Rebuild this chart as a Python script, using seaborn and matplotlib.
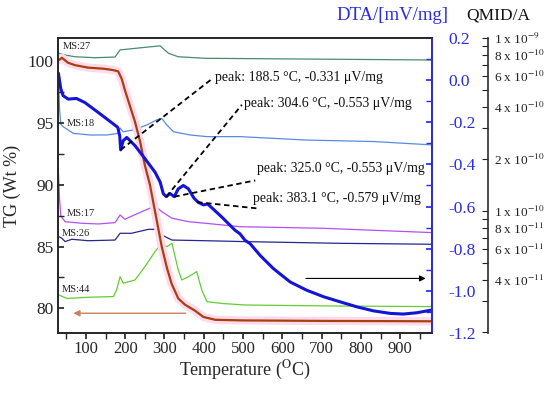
import numpy as np
import matplotlib
matplotlib.use("Agg")
import matplotlib.pyplot as plt
import matplotlib.ticker as mticker
import seaborn as sns

# --- TG curve (left axis, Wt %) ---
tg_temp = [31, 39, 54, 72, 105, 148, 169, 182, 191, 199, 212, 225, 238, 250, 263,
           278, 293, 306, 318, 335, 352, 378, 399, 429, 500, 700, 980]
tg_val = [100.1, 100.3, 99.9, 99.7, 99.5, 99.4, 99.3, 99.2, 98.6, 97.7, 96.4, 95.1, 93.5,
          91.6, 90.0, 87.5, 85.0, 83.3, 82.0, 80.8, 80.3, 79.8, 79.3, 79.07, 79.02, 78.98, 78.95]

# --- DTA curve (right axis, mV/mg) ---
dta_temp = [30, 36, 42, 55, 76, 97, 131, 165, 181, 186, 188.5, 195, 204, 225, 250, 276,
            289, 297, 304.6, 314, 325, 335, 348, 361, 375, 386, 399, 410, 420, 446, 480,
            492, 505, 518, 543, 577, 620, 662, 705, 747, 790, 832, 875, 908, 942, 980]
dta_val = [0.033, -0.041, -0.074, -0.090, -0.087, -0.106, -0.153, -0.201, -0.224, -0.264,
           -0.331, -0.287, -0.272, -0.311, -0.372, -0.437, -0.484, -0.539, -0.553, -0.538,
           -0.553, -0.516, -0.500, -0.516, -0.560, -0.580, -0.592, -0.588, -0.605, -0.650,
           -0.713, -0.729, -0.760, -0.776, -0.831, -0.894, -0.958, -0.997, -1.028, -1.052,
           -1.076, -1.095, -1.107, -1.110, -1.104, -1.091]

# --- MS ion currents (QMID axis, A) ---
ms27_temp = [30, 47, 72, 123, 174, 187, 225, 268, 289, 310, 335, 404, 747, 980]
ms27_val = [8.16e-10, 7.97e-10, 7.79e-10, 7.69e-10, 7.76e-10, 8.53e-10, 8.71e-10, 8.91e-10,
            9.0e-10, 8.16e-10, 7.79e-10, 7.63e-10, 7.53e-10, 7.46e-10]

ms18_temp = [30, 33, 36, 42, 68, 110, 153, 182, 187, 195, 220, 255, 280, 293, 306, 323,
             365, 408, 492, 662, 832, 980]
ms18_val = [5.87e-10, 3.84e-10, 3.18e-10, 3.07e-10, 2.81e-10, 2.75e-10, 2.75e-10, 2.81e-10,
            3.01e-10, 2.87e-10, 2.94e-10, 3.14e-10, 3.36e-10, 3.43e-10, 3.14e-10, 2.87e-10,
            2.75e-10, 2.69e-10, 2.69e-10, 2.57e-10, 2.52e-10, 2.41e-10]

ms17_temp = [30, 33, 36, 47, 89, 131, 174, 187, 199, 233, 268, 276, 293, 319, 361, 404,
             492, 705, 980]
ms17_val = [1.68e-10, 1.16e-10, 9.36e-11, 8.67e-11, 8.49e-11, 8.41e-11, 8.56e-11, 9.48e-11,
            8.95e-11, 9.70e-11, 1.05e-10, 1.07e-10, 9.91e-11, 9.08e-11, 8.67e-11, 8.49e-11,
            8.11e-11, 7.94e-11, 7.50e-11]

ms26_temp = [31, 38, 47, 64, 106, 174, 187, 216, 259, 276, 293, 319, 404, 505, 747, 980]
ms26_val = [7.10e-11, 6.98e-11, 6.65e-11, 6.86e-11, 6.73e-11, 6.79e-11, 7.43e-11, 7.43e-11,
            7.83e-11, 7.83e-11, 7.26e-11, 6.79e-11, 6.73e-11, 6.65e-11, 6.50e-11, 6.42e-11]

ms44_temp = [31, 52, 106, 170, 178, 187, 195, 225, 250, 276, 293, 306, 319, 335, 344, 361,
             382, 395, 408, 446, 505, 747, 980]
ms44_val = [3.27e-11, 3.12e-11, 3.17e-11, 3.20e-11, 3.49e-11, 4.17e-11, 3.82e-11, 3.99e-11,
            4.76e-11, 5.82e-11, 6.50e-11, 6.22e-11, 6.50e-11, 4.56e-11, 3.99e-11, 4.17e-11,
            4.46e-11, 3.49e-11, 2.99e-11, 2.92e-11, 2.86e-11, 2.82e-11, 2.80e-11]

# --- DTA peak annotations ---
peak_temp = [188.5, 304.6, 325.0, 383.1]
peak_dta = [-0.331, -0.553, -0.553, -0.579]
peak_labels = ["peak: 188.5 °C, -0.331 μV/mg", "peak: 304.6 °C, -0.553 μV/mg",
               "peak: 325.0 °C, -0.553 μV/mg", "peak: 383.1 °C, -0.579 μV/mg"]

qmid_ticks = [1e-9, 8e-10, 6e-10, 4e-10, 2e-10, 1e-10, 8e-11, 6e-11, 4e-11]
qmid_labels = [r"1 x 10$^{-9}$", r"8 x 10$^{-10}$", r"6 x 10$^{-10}$", r"4 x 10$^{-10}$",
               r"2 x 10$^{-10}$", r"1 x 10$^{-10}$", r"8 x 10$^{-11}$", r"6 x 10$^{-11}$",
               r"4 x 10$^{-11}$"]

sns.set_theme(style="ticks")
plt.rcParams["font.family"] = ["Liberation Serif", "DejaVu Serif"]
plt.rcParams["mathtext.fontset"] = "stix"

BROWN = "#a8400e"
BLUE = "#1414d8"
AXBLUE = "#2a2ae6"

fig = plt.figure(figsize=(5.5, 3.99), dpi=100)
ax3 = fig.add_axes([0.1055, 0.1654, 0.68, 0.7394])   # QMID (MS curves)
ax = fig.add_axes([0.1055, 0.1654, 0.68, 0.7394])    # TG
ax2 = ax.twinx()                                     # DTA
for a, z in ((ax3, 1), (ax, 2), (ax2, 3)):
    a.set_zorder(z)
    a.patch.set_visible(False)

# MS curves
ms_sets = [(ms27_temp, ms27_val, "#4a8a70"), (ms18_temp, ms18_val, "#5a8ae0"),
           (ms17_temp, ms17_val, "#b450f0"), (ms26_temp, ms26_val, "#26268c"),
           (ms44_temp, ms44_val, "#66cc33")]
for t, v, c in ms_sets:
    sns.lineplot(x=t, y=v, ax=ax3, color=c, linewidth=0.9)
ax3.set_yscale("log")
ax3.set_ylim(1.97e-11, 1e-9)
ax3.set_xlim(29, 981)
ax3.xaxis.set_visible(False)
ax3.yaxis.tick_right()
for s in ("left", "top", "bottom"):
    ax3.spines[s].set_visible(False)
ax3.spines["right"].set_position(("axes", 1.15))
ax3.spines["right"].set_color("#333333")
ax3.yaxis.set_major_locator(mticker.FixedLocator(qmid_ticks))
ax3.yaxis.set_major_formatter(mticker.FixedFormatter(qmid_labels))
ax3.yaxis.set_minor_locator(mticker.FixedLocator([9e-10, 7e-10, 5e-10, 3e-10, 9e-11,
                                                  7e-11, 5e-11, 3e-11, 2e-11]))
ax3.yaxis.set_minor_formatter(mticker.NullFormatter())
ax3.tick_params(axis="y", which="both", direction="in", length=4, width=0.8,
                labelsize=9.5, pad=4, colors="#222222")

# TG curve with its pink halo
ax.plot(tg_temp, tg_val, color="#ffd9ec", linewidth=6, solid_capstyle="round")
sns.lineplot(x=tg_temp, y=tg_val, ax=ax, color=BROWN, linewidth=1.6)
ax.set_xlim(29, 981)
ax.set_ylim(78.0, 101.9)
ax.set_xticks(range(100, 1000, 100))
ax.xaxis.set_minor_locator(mticker.MultipleLocator(50))
ax.set_yticks([80, 85, 90, 95, 100])
ax.yaxis.set_minor_locator(mticker.MultipleLocator(2.5))
ax.tick_params(axis="x", which="both", direction="out", length=4, labelsize=12, pad=2)
ax.tick_params(axis="y", which="both", direction="in", length=4, labelsize=12.5, pad=3)
ax.set_xlabel(r"Temperature ($^{\mathrm{O}}$C)", fontsize=13, labelpad=1)
ax.set_ylabel("TG (Wt %)", fontsize=13, labelpad=5)
for s in ax.spines.values():
    s.set_color("#333333")
ax.annotate("", xy=(61, 79.6), xytext=(361, 79.6),
            arrowprops=dict(arrowstyle="-|>", color="#c8825e", lw=1.0, mutation_scale=9))

# DTA curve
sns.lineplot(x=dta_temp, y=dta_val, ax=ax2, color=BLUE, linewidth=2.2)
ax2.set_ylim(-1.2, 0.2)
ax2.set_yticks(np.round(np.arange(-1.2, 0.21, 0.2), 1))
ax2.yaxis.set_major_formatter(mticker.FuncFormatter(lambda v, p: f"{abs(v):.1f}" if abs(v) < 1e-9 else f"{v:.1f}"))
ax2.yaxis.set_minor_locator(mticker.MultipleLocator(0.1))
ax2.tick_params(axis="y", which="both", direction="in", length=4, labelsize=12.5,
                colors=AXBLUE, pad=12)
ax2.spines["right"].set_color(AXBLUE)
ax2.annotate("", xy=(972, -0.941), xytext=(653, -0.941),
             arrowprops=dict(arrowstyle="-|>", color="black", lw=0.8, mutation_scale=9))

# peak annotations (line end / text anchor in data units)
line_ends = [(421, 0.006), (497, -0.117), (531, -0.476), (538, -0.609)]
text_pos = [(429, 0.011), (502, -0.112), (536, -0.420), (525, -0.562)]
for pt, pv, lab, (ex, ey), (tx, ty) in zip(peak_temp, peak_dta, peak_labels, line_ends, text_pos):
    ax2.plot([pt, ex], [pv, ey], color="black", linestyle=(0, (3, 2)), linewidth=1.3)
    ax2.text(tx, ty, lab, fontsize=10, va="center", ha="left", color="#111111")

# MS labels (placed in TG units)
ms_names = ["MS:27", "MS:18", "MS:17", "MS:26", "MS:44"]
ms_label_pos = [(41, 101.2), (51, 95.0), (51, 87.7), (38, 86.1), (38, 81.5)]
for name, (lx, ly) in zip(ms_names, ms_label_pos):
    ax.text(lx, ly, name, fontsize=7.5, va="center", ha="left", color="#222222")

fig.text(392 / 550, 1 - 15 / 399, "DTA/[mV/mg]", color=AXBLUE, fontsize=13.5,
         ha="center", va="center")
fig.text(498 / 550, 1 - 16 / 399, "QMID/A", color="#111111", fontsize=12.5,
         ha="center", va="center")

fig.savefig("out.png", dpi=100)
